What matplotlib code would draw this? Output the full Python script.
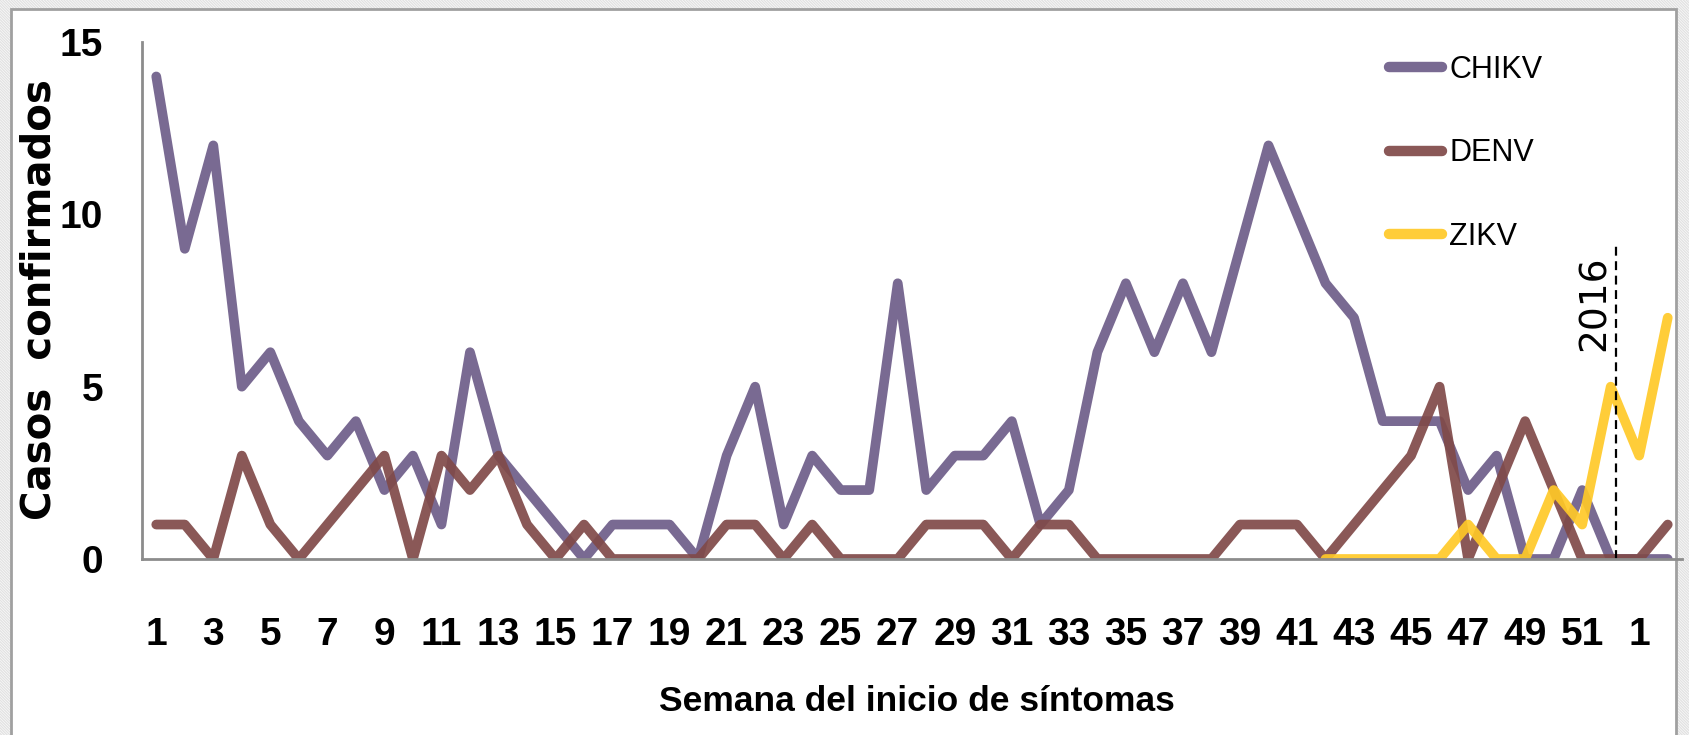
import numpy as np
import matplotlib
matplotlib.use('Agg')
from matplotlib import pyplot as plt
from matplotlib import font_manager
from matplotlib.patches import Rectangle

# weeks of symptom onset: 2015 weeks 1-52, then 2016 weeks 1-2
weeks = list(range(1, 53)) + [1, 2]

chikv = [14, 9, 12, 5, 6, 4, 3, 4, 2, 3, 1, 6, 3, 2, 1, 0, 1, 1, 1, 0,
         3, 5, 1, 3, 2, 2, 8, 2, 3, 3, 4, 1, 2, 6, 8, 6, 8, 6, 9, 12,
         10, 8, 7, 4, 4, 4, 2, 3, 0, 0, 2, 0, 0, 0]
denv = [1, 1, 0, 3, 1, 0, 1, 2, 3, 0, 3, 2, 3, 1, 0, 1, 0, 0, 0, 0,
        1, 1, 0, 1, 0, 0, 0, 1, 1, 1, 0, 1, 1, 0, 0, 0, 0, 0, 1, 1,
        1, 0, 1, 2, 3, 5, 0, 2, 4, 2, 0, 0, 0, 1]
zikv = [None] * 41 + [0, 0, 0, 0, 0, 1, 0, 0, 2, 1, 5, 3, 7]

series = ['CHIKV', 'DENV', 'ZIKV']
colors = ['#6e5d89', '#804a49', '#ffc928']

year_mark = 51.2   # position of the 2016 divider
year_label = '2016'

installed = {f.name for f in font_manager.fontManager.ttflist}
narrow = 'Liberation Sans Narrow' if 'Liberation Sans Narrow' in installed else 'Liberation Sans'

plt.rcParams['hatch.linewidth'] = 1.0

fig = plt.figure(figsize=(16.9, 7.35), dpi=100)

# hatched background and white panel
fig.patches.append(Rectangle((0, 0), 1, 1, transform=fig.transFigure, facecolor='white',
                             edgecolor='#e2e2e2', lw=0, hatch='\\' * 12, zorder=-20))
fig.patches.append(Rectangle((11 / 1690, -0.05), 1676 / 1690 - 11 / 1690, 1.05 - 9 / 735,
                             transform=fig.transFigure, facecolor='white',
                             edgecolor='#a0a0a0', lw=2, zorder=-10))

ax = fig.add_axes([142 / 1690, 1 - 559 / 735, 1540 / 1690, 517 / 735])
ax.patch.set_alpha(0)

x = np.arange(len(weeks))
for name, vals, col in zip(series, [chikv, denv, zikv], colors):
    y = np.array([np.nan if v is None else v for v in vals], dtype=float)
    ax.plot(x, y, color=col, lw=7, alpha=0.92, label=name, solid_joinstyle='round',
            solid_capstyle='round')

ax.plot([year_mark, year_mark], [0, 9.2], color='black', lw=1.6, ls=(0, (4, 2.5)))
ax.text(year_mark - 0.12, 8.8, year_label, rotation=90, ha='right', va='top',
        fontsize=27, family='DejaVu Sans')

ax.set_xlim(-0.5, len(weeks) - 0.5)
ax.set_ylim(0, 15)
ax.set_yticks([0, 5, 10, 15])
ax.set_xticks(x[::2])
ax.set_xticklabels([str(w) for w in weeks[::2]])

for side in ['top', 'right']:
    ax.spines[side].set_visible(False)
for side in ['left', 'bottom']:
    ax.spines[side].set_color('#8c8c8c')
    ax.spines[side].set_linewidth(2)

ax.tick_params(axis='both', length=0)
ax.tick_params(axis='y', pad=28)
ax.tick_params(axis='x', pad=42)
for lab in ax.get_xticklabels() + ax.get_yticklabels():
    lab.set_family(narrow)
    lab.set_fontweight('bold')
    lab.set_fontsize(28)

fig.text(40 / 1690, 1 - 300 / 735, 'Casos  confirmados', rotation=90, ha='center',
         va='center', fontsize=29, fontweight='bold', family='DejaVu Sans')
fig.text(917 / 1690, 1 - 711 / 735, 'Semana del inicio de síntomas', ha='center',
         va='baseline', fontsize=25.5, fontweight='bold', family=narrow)

leg = ax.legend(loc='upper left', bbox_to_anchor=(0.81, 0.975), frameon=False,
                handlelength=1.73, handletextpad=0.23, labelspacing=1.75,
                borderpad=0, borderaxespad=0,
                prop={'family': narrow, 'size': 22})
for h in leg.get_lines():
    h.set_linewidth(7.5)
    h.set_solid_capstyle('round')

fig.savefig('out.png', dpi=100)
